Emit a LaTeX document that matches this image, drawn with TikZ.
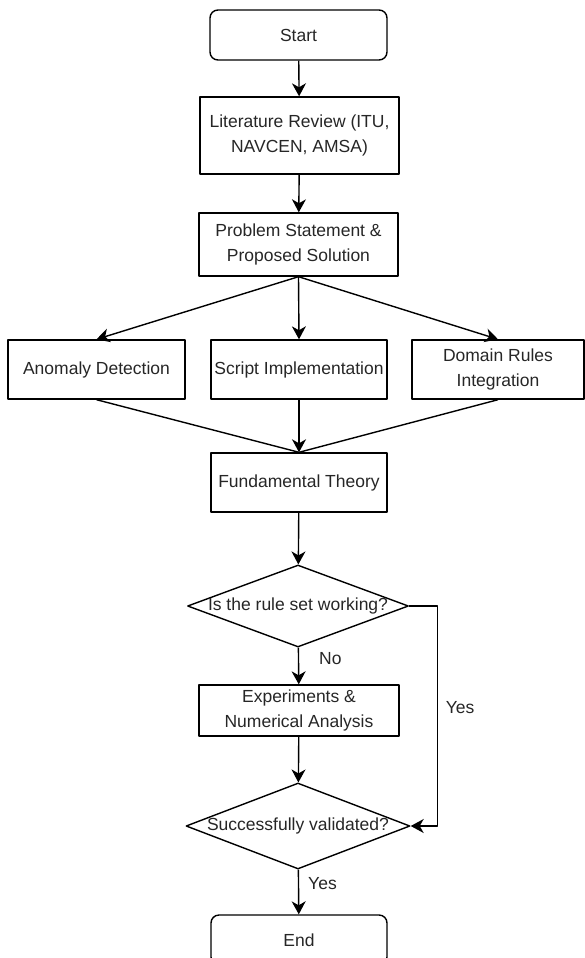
\documentclass[tikz,border=0pt]{standalone}
\usepackage{fontspec}
\setmainfont{Liberation Sans}
\usetikzlibrary{shapes.geometric,arrows.meta}
\begin{document}
\begin{tikzpicture}[x=1pt, y=-1pt, font=\fontsize{17.5}{25}\selectfont, line join=round,
    >={Stealth[length=13pt,width=14pt,inset=4pt]},
    box/.style={draw, line width=1.4pt, inner sep=0pt, align=center, text=black!85},
    term/.style={box, rounded corners=8pt, minimum width=177pt, minimum height=50pt},
    decision/.style={box, diamond, minimum width=222pt, minimum height=84pt},
    lbl/.style={inner sep=0pt, text=black!85},
    link/.style={line width=1.4pt}]
    \useasboundingbox (0,0) rectangle (585,958);
    % main column
    \node[term] (start) at (298.5,35) {Start};
    \node[box, minimum width=199pt, minimum height=77pt] (review) at (299.5,135.5) {Literature Review (ITU,\\NAVCEN, AMSA)};
    \node[box, minimum width=199pt, minimum height=63pt] (problem) at (298.5,244.5) {Problem Statement \&\\Proposed Solution};
    \node[box, minimum width=177pt, minimum height=59pt] (anomaly) at (96.5,369.5) {Anomaly Detection};
    \node[box, minimum width=176pt, minimum height=59pt] (script) at (299,369.5) {Script Implementation};
    \node[box, minimum width=172pt, minimum height=59pt] (domain) at (498,369.5) {Domain Rules\\Integration};
    \node[box, minimum width=176pt, minimum height=59pt] (theory) at (299,482.5) {Fundamental Theory};
    \node[decision, minimum width=221pt, minimum height=82pt] (working) at (298,606) {\makebox[0pt]{Is the rule set working?}};
    \node[box, minimum width=200pt, minimum height=51pt] (experiments) at (299,710.5) {Experiments \&\\Numerical Analysis};
    \node[decision, minimum width=224pt, minimum height=86pt] (validated) at (298,826) {\makebox[0pt]{Successfully validated?}};
    \node[term, minimum width=176pt] (finish) at (299,940) {End};
    % connectors
    \draw[link,->] (start) -- (review);
    \draw[link,->] (review) -- (problem);
    \draw[link,->] (problem.south) -- (anomaly.north);
    \draw[link,->] (problem.south) -- (script.north);
    \draw[link,->] (problem.south) -- (domain.north);
    \draw[link] (anomaly.south) -- (theory.north);
    \draw[link,->] (script) -- (theory);
    \draw[link] (domain.south) -- (theory.north);
    \draw[link,->] (theory) -- (working);
    \draw[link,->] (working) -- node[lbl, pos=0.3, right=20pt] {No} (experiments);
    \draw[link,->] (working.east) -- ++(28,0) |- node[lbl, pos=0.23, right=8pt] {Yes} (validated.east);
    \draw[link,->] (experiments) -- (validated);
    \draw[link,->] (validated) -- node[lbl, pos=0.32, right=9pt] {Yes} (finish);
\end{tikzpicture}
\end{document}
